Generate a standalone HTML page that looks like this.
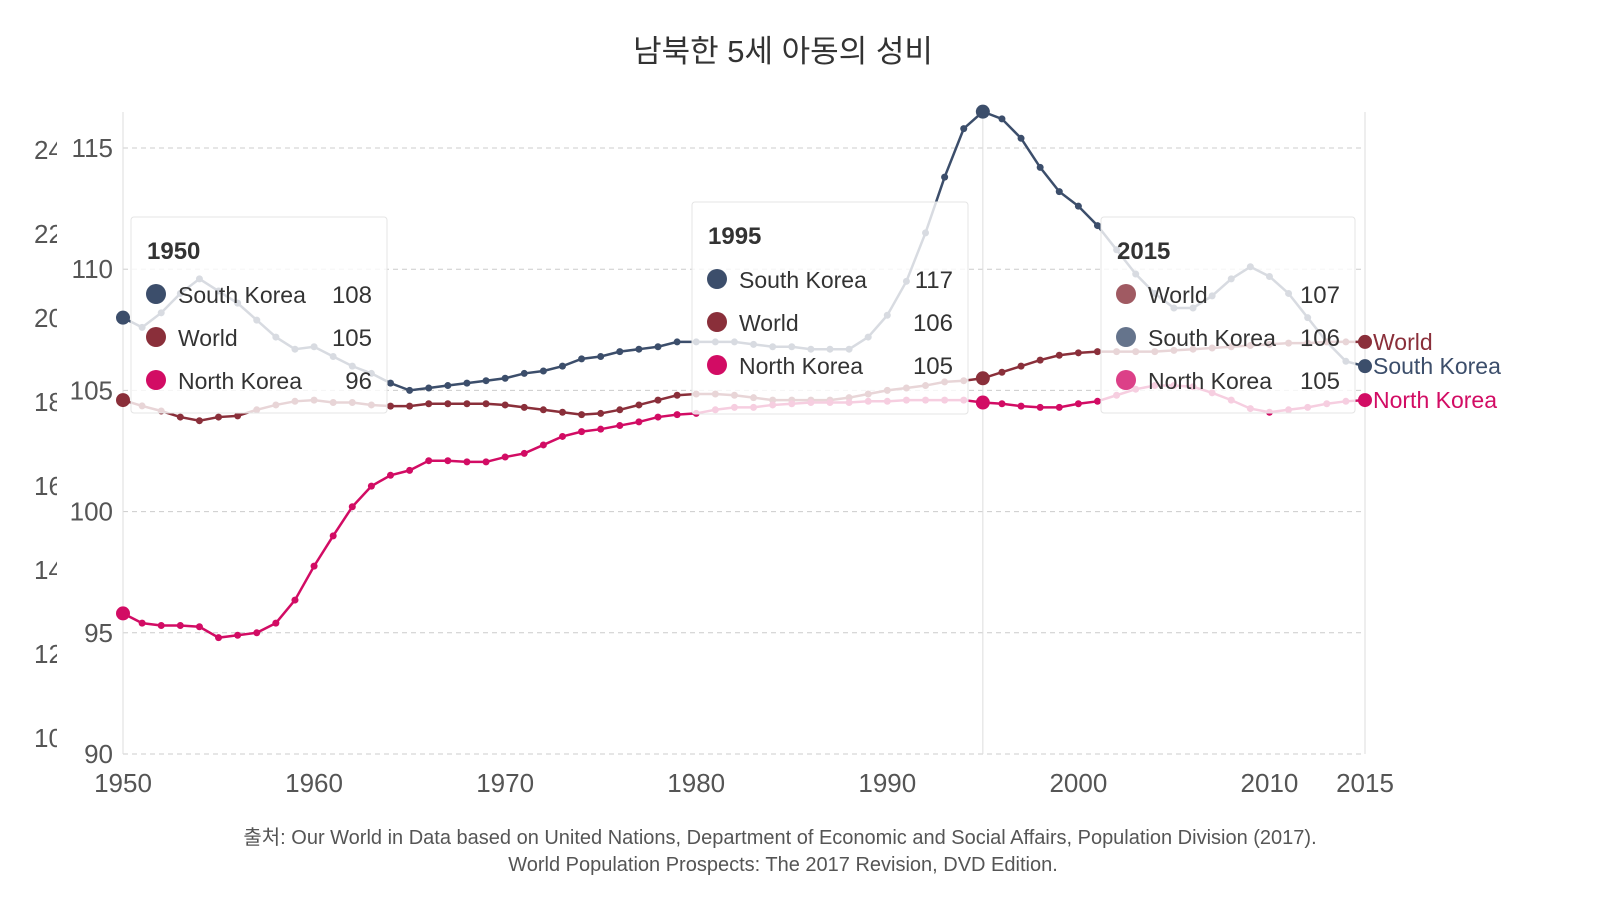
<!DOCTYPE html>
<html><head><meta charset="utf-8"><style>
body{margin:0;background:#fff;width:1600px;height:900px;overflow:hidden;font-family:"Liberation Sans","Noto Sans CJK KR",sans-serif}
svg text{font-family:"Liberation Sans","Noto Sans CJK KR",sans-serif}
</style></head><body>
<svg id="chart" width="1600" height="900" xmlns="http://www.w3.org/2000/svg">
<text x="783" y="62" text-anchor="middle" font-size="31" fill="#333">남북한 5세 아동의 성비</text>
<g id="ghost" clip-path="url(#gclip)"></g>
<defs><clipPath id="gclip"><rect x="0" y="0" width="57" height="900"/></clipPath></defs>
<g id="grid"></g><g id="lines"></g><g id="tips"></g>
<text x="780" y="844" text-anchor="middle" font-size="20" fill="#555">출처: Our World in Data based on United Nations, Department of Economic and Social Affairs, Population Division (2017).</text>
<text x="783" y="871" text-anchor="middle" font-size="20" fill="#555">World Population Prospects: The 2017 Revision, DVD Edition.</text>
</svg>
<script>
const years=[];for(let y=1950;y<=2015;y++)years.push(y);
const southKorea=[108.0,107.6,108.2,109.0,109.6,109.1,108.6,107.9,107.2,106.7,106.8,106.4,106.0,105.7,105.3,105.0,105.1,105.2,105.3,105.4,105.5,105.7,105.8,106.0,106.3,106.4,106.6,106.7,106.8,107.0,107.0,107.0,107.0,106.9,106.8,106.8,106.7,106.7,106.7,107.2,108.1,109.5,111.5,113.8,115.8,116.5,116.2,115.4,114.2,113.2,112.6,111.8,110.8,109.8,109.0,108.4,108.4,108.9,109.6,110.1,109.7,109.0,108.0,107.0,106.2,106.0];
const world=[104.6,104.36,104.15,103.9,103.75,103.9,103.95,104.2,104.4,104.55,104.6,104.5,104.5,104.4,104.35,104.35,104.45,104.45,104.45,104.45,104.4,104.3,104.2,104.1,104.0,104.05,104.2,104.4,104.6,104.8,104.85,104.85,104.8,104.7,104.6,104.6,104.6,104.6,104.7,104.85,105.0,105.1,105.2,105.35,105.4,105.5,105.75,106.0,106.25,106.45,106.55,106.6,106.6,106.6,106.6,106.65,106.7,106.75,106.8,106.85,106.9,106.95,106.95,107.0,107.0,107.0];
const northKorea=[95.8,95.4,95.3,95.3,95.25,94.8,94.9,95.0,95.4,96.35,97.75,99.0,100.2,101.05,101.5,101.7,102.1,102.1,102.05,102.05,102.25,102.4,102.75,103.1,103.3,103.4,103.55,103.7,103.9,104.0,104.05,104.2,104.3,104.3,104.4,104.45,104.5,104.5,104.5,104.55,104.55,104.6,104.6,104.6,104.6,104.5,104.45,104.35,104.3,104.3,104.45,104.55,104.8,105.05,105.2,105.2,105.15,104.9,104.6,104.25,104.1,104.2,104.3,104.45,104.55,104.6];
const yTicks=[90,95,100,105,110,115];
const xTicks=[1950,1960,1970,1980,1990,2000,2010,2015];
const ghostLabels=["24","22","20","18","16","14","12","10"];
const NS="http://www.w3.org/2000/svg";
const X=y=>123+(y-1950)*(1365-123)/65;
const Y=v=>754-(v-90)*(754-148)/25;
function mk(t,a,p){const e=document.createElementNS(NS,t);for(const k in a)e.setAttribute(k,a[k]);p.appendChild(e);return e;}
const grid=document.getElementById('grid'),lines=document.getElementById('lines'),tips=document.getElementById('tips'),ghost=document.getElementById('ghost');
ghostLabels.forEach((g,i)=>{const t=mk('text',{x:34,y:159+i*84,'font-size':26,fill:'#555'},ghost);t.textContent=g;

});
yTicks.forEach(v=>{const l=mk('line',{x1:123,x2:1365,y1:Y(v),y2:Y(v),stroke:'#ccc','stroke-dasharray':'5,4'},grid);


const t=mk('text',{x:113,y:Y(v)+9,'text-anchor':'end','font-size':26,fill:'#555'},grid);t.textContent=v;

});
mk('line',{x1:123,x2:123,y1:112,y2:754,stroke:'#ddd'},grid);
mk('line',{x1:1365,x2:1365,y1:112,y2:754,stroke:'#ddd'},grid);
mk('line',{x1:X(1995),x2:X(1995),y1:112,y2:754,stroke:'#ddd'},grid);
xTicks.forEach(y=>{const t=mk('text',{x:X(y),y:792,'text-anchor':'middle','font-size':26,fill:'#555'},grid);t.textContent=y;

});
const series=[["south-korea",southKorea,"#3c4e6b","South Korea"],["world",world,"#8a2f3a","World"],["north-korea",northKorea,"#d20c64","North Korea"]];
series.forEach(([n,d,c,lab])=>{const g=mk('g',{},lines);


mk('path',{d:d.map((v,i)=>(i?'L':'M')+X(years[i])+','+Y(v)).join(''),fill:'none',stroke:c,'stroke-width':2.5},g);
d.forEach((v,i)=>{const big=[1950,1995,2015].includes(years[i]);mk('circle',{cx:X(years[i]),cy:Y(v),r:big?7:3.5,fill:c},g);});
const t=mk('text',{x:1373,y:Y(d[d.length-1])+8,'font-size':23,fill:c},g);t.textContent=lab;

});
function tip(x,y,w,h,year,rows){const g=mk('g',{},tips);


mk('rect',{x:x,y:y,width:w,height:h,rx:3,fill:'rgba(255,255,255,0.8)',stroke:'#e4e4e4'},g);
const t=mk('text',{x:x+16,y:y+42,'font-size':24,'font-weight':'bold',fill:'#333'},g);t.textContent=year;
rows.forEach((r,i)=>{const cy=y+77+i*43;mk('circle',{cx:x+25,cy:cy,r:10,fill:r[2]},g);
const a=mk('text',{x:x+47,y:cy+9,'font-size':23,fill:'#333'},g);a.textContent=r[0];
const b=mk('text',{x:x+w-15,y:cy+9,'text-anchor':'end','font-size':24,fill:'#333'},g);b.textContent=r[1];});}
tip(131,217,256,196,"1950",[["South Korea",Math.round(southKorea[0]),"#3c4e6b"],["World",Math.round(world[0]),"#8a2f3a"],["North Korea",Math.round(northKorea[0]),"#d20c64"]]);
tip(692,202,276,212,"1995",[["South Korea",Math.round(southKorea[45]),"#3c4e6b"],["World",Math.round(world[45]),"#8a2f3a"],["North Korea",Math.round(northKorea[45]),"#d20c64"]]);
tip(1101,217,254,196,"2015",[["World",Math.round(world[65]),"#a05a62"],["South Korea",Math.round(southKorea[65]),"#65748c"],["North Korea",Math.round(northKorea[65]),"#dc4088"]]);
</script>
</body></html>
